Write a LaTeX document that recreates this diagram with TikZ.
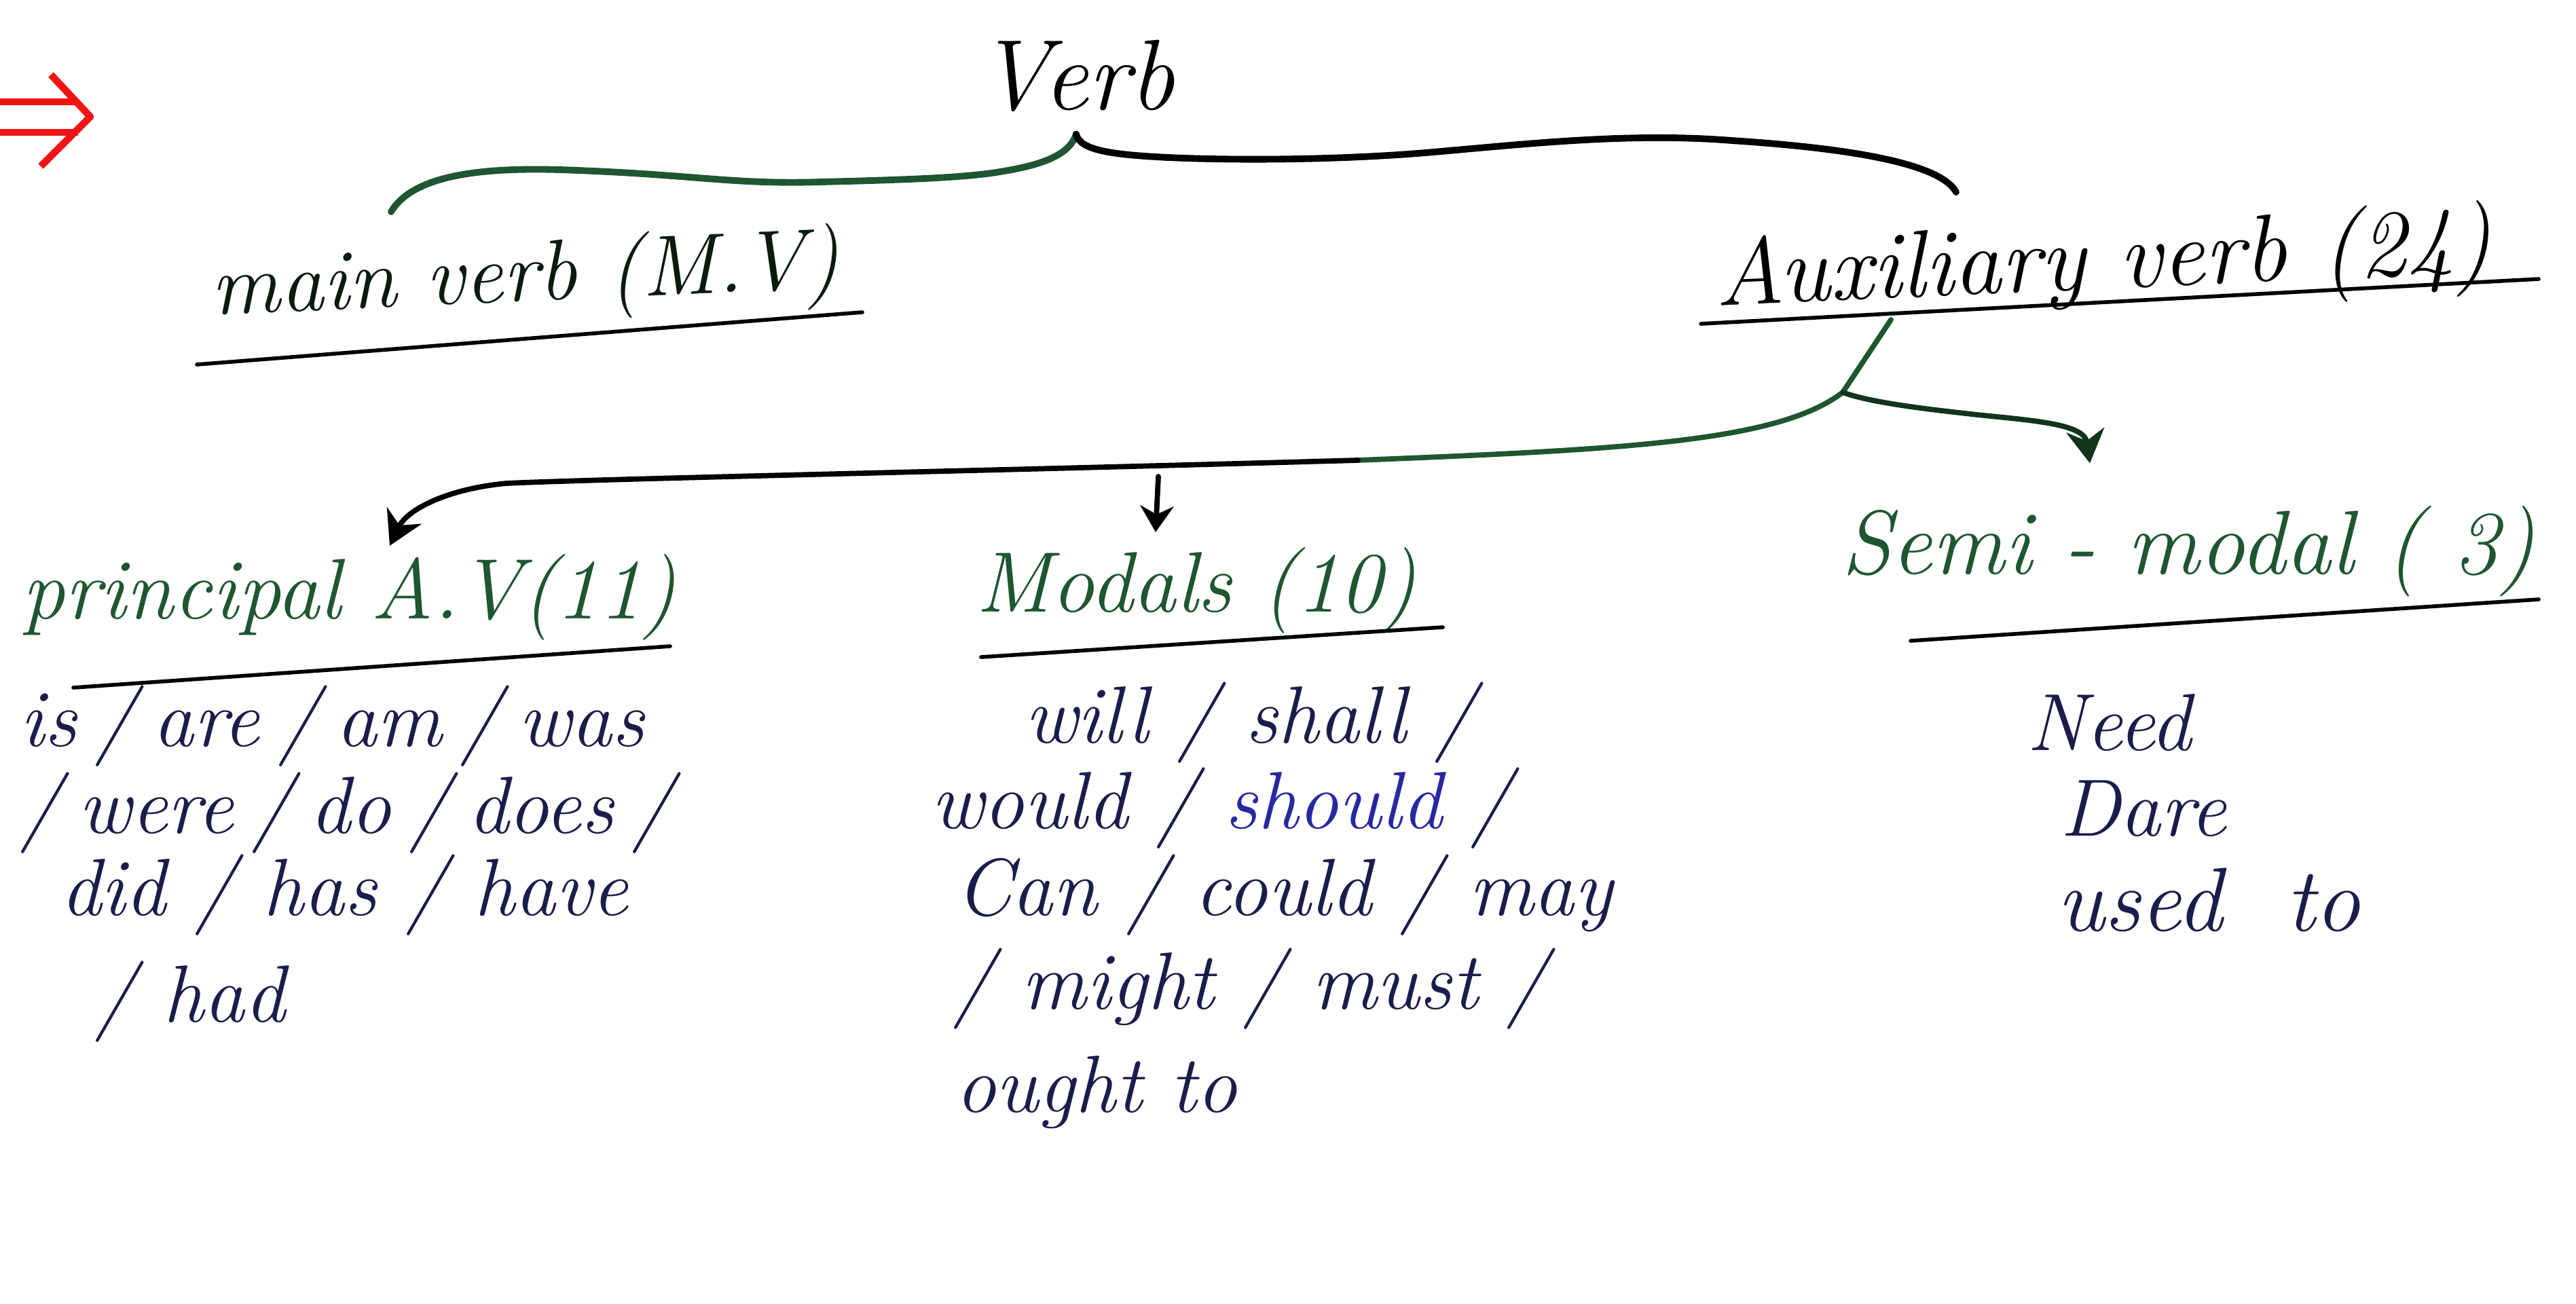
\documentclass[tikz,border=0pt]{standalone}
\usepackage{fontspec}
\usepackage{tikz}
\usetikzlibrary{arrows.meta,positioning}
\definecolor{inkgreen}{HTML}{1E5631}
\definecolor{inknavy}{HTML}{1C1C4C}
\definecolor{inkblue}{HTML}{2828A0}
\definecolor{inkred}{HTML}{F01414}
\tikzset{
    head/.style={font=\fontsize{36}{40}\selectfont\itshape, text=inkgreen, inner sep=2pt},
    body/.style={font=\fontsize{34}{38}\selectfont\itshape, text=inknavy, inner sep=1pt, anchor=west},
    uline/.style={black, line width=1.6pt, line cap=round},
    brace/.style={line width=2.8pt, line cap=round},
    branch/.style={line width=2.2pt, line cap=round, -{Stealth[length=14pt,width=16pt]}},
}
\begin{document}
\begin{tikzpicture}
    \useasboundingbox (0,0) rectangle (37.94,-19.20);
    % red double arrow
    \draw[inkred, line width=3pt] (0,-1.50) -- (1.15,-1.50);
    \draw[inkred, line width=3pt] (0,-1.95) -- (1.15,-1.95);
    \draw[inkred, line width=3pt, line join=round] (0.75,-1.10) -- (1.33,-1.72) -- (0.60,-2.45);

    % headings
    \node[head, text=black, font=\fontsize{42}{46}\selectfont\itshape] (verb) at (15.85,-1.12) {Verb};
    \node[head, text=black!70!inkgreen, rotate=2.5] (mainverb) at (7.74,-4.12) {main verb (M.V)};
    \node[head, text=black, rotate=2.5, font=\fontsize{40}{44}\selectfont\itshape] (auxverb) at (30.98,-3.90) {Auxiliary verb (24)};
    \node[head] (principal) at (5.14,-8.80) {principal A.V(11)};
    \node[head] (modals) at (17.62,-8.70) {Modals (10)};
    \node[head, font=\fontsize{38}{42}\selectfont\itshape] (semimodal) at (32.23,-8.12) {Semi - modal ( 3)};

    % underlines
    \draw[uline] (2.90,-5.37) -- (12.70,-4.60);
    \draw[uline] (25.05,-4.77) -- (37.39,-4.11);
    \draw[uline] (1.08,-10.13) -- (9.87,-9.52);
    \draw[uline] (14.45,-9.68) -- (21.25,-9.24);
    \draw[uline] (28.14,-9.44) -- (37.39,-8.83);

    % word lists
    \foreach \x/\y/\n/\t in {0.25/-10.70/pa/{is\:/\:are\:/\:am\:/\:was},
                            0.25/-11.98/pb/{/\:were\:/\:do\:/\:does\:/},
                            0.85/-13.19/pc/{did / has / have},
                            1.35/-14.76/pd/{/ had},
                            15.05/-10.65/ma/{will / shall /},
                            13.67/-11.91/mb/{would / \textcolor{inkblue}{should} /},
                            14.03/-13.19/mc/{Can / could / may},
                            13.99/-14.57/md/{/ might / must /},
                            14.03/-16.09/me/{ought to},
                            29.81/-10.65/sa/{Need},
                            30.30/-11.91/sb/{Dare},
                            30.25/-13.26/sc/{\fontsize{38}{42}\selectfont used\hspace{0.7em}to}}{
        \node[body] (\n) at (\x,\y) {\t};
    }

    % brace under Verb
    \coordinate (braceL) at (5.76,-3.12);
    \coordinate (braceR) at (28.81,-2.83);
    \draw[brace, inkgreen] (braceL) .. controls (6.1,-2.55) and (7.2,-2.45) .. (8.5,-2.51)
        .. controls (10.3,-2.58) and (10.8,-2.72) .. (12.1,-2.68)
        .. controls (13.3,-2.65) and (14.1,-2.62) .. (14.6,-2.55)
        .. controls (15.3,-2.45) and (15.75,-2.30) .. ([yshift=-0.25cm]verb.south);
    \draw[brace] ([yshift=-0.25cm]verb.south) .. controls (15.9,-2.22) and (16.4,-2.28) .. (17.2,-2.32)
        .. controls (18.3,-2.37) and (19.8,-2.35) .. (21.0,-2.25)
        .. controls (22.5,-2.12) and (24.0,-1.95) .. (25.5,-2.07)
        .. controls (27.5,-2.20) and (28.6,-2.45) .. (braceR);

    % branches of the auxiliary verb
    \coordinate (auxStem) at (27.85,-4.71);
    \coordinate (fork) at (27.14,-5.78);
    \coordinate (midline) at (20.0,-6.78);
    \coordinate (modTop) at (17.06,-7.02);
    \draw[brace, inkgreen, line width=2.2pt] (auxStem) -- (fork);
    \draw[brace, inkgreen, line width=2.2pt] (fork) .. controls (26.2,-6.50) and (24.0,-6.62) .. (midline);
    \draw[branch] (midline) .. controls (14.0,-6.95) and (9.0,-7.05) .. (7.46,-7.12)
        .. controls (6.6,-7.20) and (6.0,-7.50) .. ([xshift=0.60cm,yshift=0.05cm]principal.north);
    \draw[branch, -{Stealth[length=11pt,width=14pt]}] (modTop) -- ([xshift=-0.60cm,yshift=0.15cm]modals.north);
    \draw[branch, draw=inkgreen!60!black] (fork) .. controls (27.6,-5.95) and (28.6,-6.05) .. (29.12,-6.11)
        .. controls (30.0,-6.20) and (30.7,-6.25) .. ([xshift=-1.45cm,yshift=0.55cm]semimodal.north);
\end{tikzpicture}
\end{document}
